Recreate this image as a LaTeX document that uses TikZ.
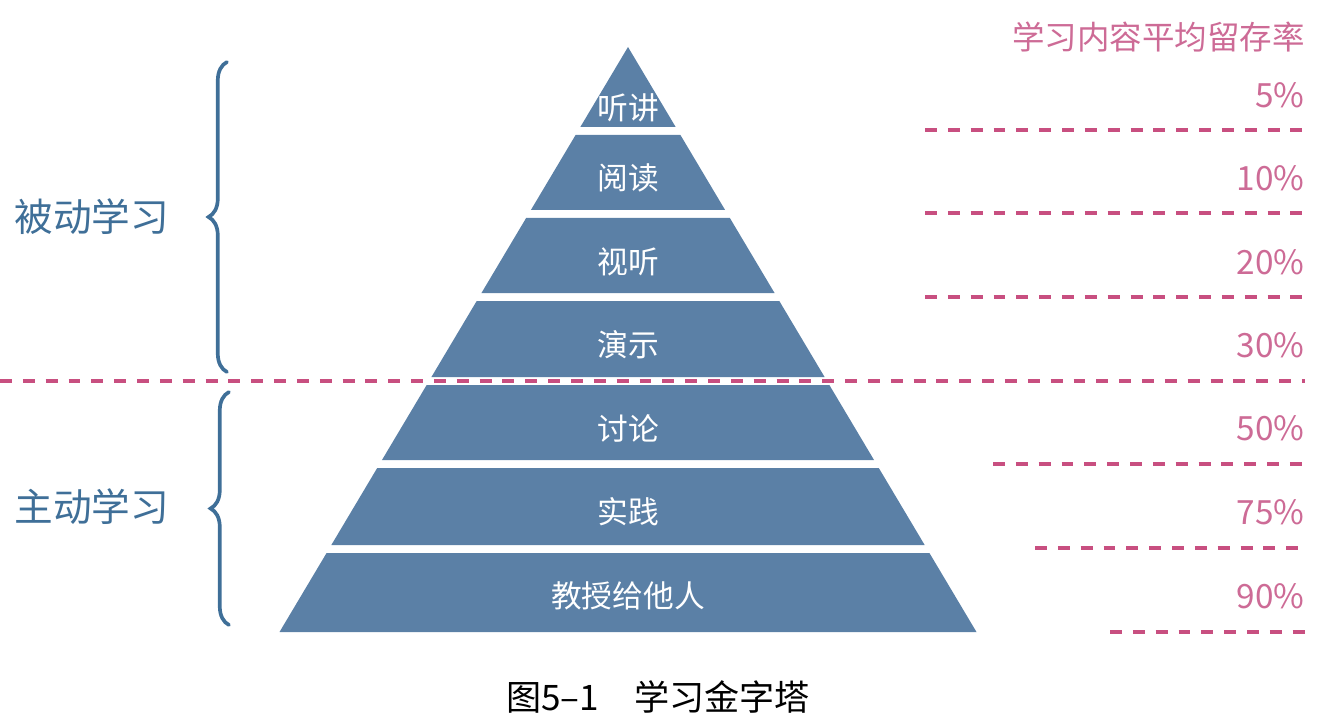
\documentclass[tikz,border=0pt]{standalone}
\usepackage{fontspec}
\setmainfont{Noto Sans CJK SC}
\usepackage{xcolor}
\usepackage{tikz}
\usetikzlibrary{
  arrows.meta,
  positioning,
  calc,
  decorations.pathreplacing
}
\definecolor{PyrBlue}{HTML}{5B80A6}
\definecolor{BraceBlue}{HTML}{3F6F98}
\definecolor{RateDash}{HTML}{C84F80}
\definecolor{RateText}{HTML}{CD6B96}

\tikzset{
  layerlabel/.style={text=white,font=\fontsize{17.5}{20}\selectfont,inner sep=0pt},
  pctlabel/.style={text=RateText,font=\fontsize{19}{22}\selectfont,inner sep=0pt,anchor=east},
  ratedash/.style={draw=RateDash,line width=2.3pt,dash pattern=on 6.8pt off 6.2pt},
  sidebrace/.style={draw=BraceBlue,line width=2.1pt,line cap=round,
    decorate,decoration={brace,amplitude=10.5pt}},
  sidelabel/.style={text=BraceBlue,font=\fontsize{22}{26}\selectfont,inner sep=0pt}
}

\begin{document}
\begin{tikzpicture}[x=0.02cm,y=-0.02cm]
    \useasboundingbox (0,0) rectangle (1318,726);

    % pyramid layers with their retention rates
    \foreach \ya/\yb/\lbl/\ly/\pct/\py [count=\i] in {
        47/127/听讲/108/5\%/95,
        135/210/阅读/178/10\%/178,
        218/293/视听/262/20\%/262,
        301/377/演示/345/30\%/345,
        385/460/讨论/428/50\%/428,
        468/545/实践/512/75\%/512,
        553/632/教授给他人/596/90\%/596}
    {
      \pgfmathsetmacro\wa{0.5957*(\ya-47)}
      \pgfmathsetmacro\wb{0.5957*(\yb-47)}
      \fill[PyrBlue] (628-\wa,\ya) -- (628+\wa,\ya) -- (628+\wb,\yb) -- (628-\wb,\yb) -- cycle;
      \node[layerlabel] (layer\i) at (628,\ly) {\lbl};
      \node[pctlabel] (pct\i) at (1305,\py) {\pct};
    }

    \node[text=RateText,font=\fontsize{18.5}{22}\selectfont,inner sep=0pt,anchor=east]
      (ratehead) at (1305,37) {学习内容平均留存率};

    % separators
    \foreach \y/\xs in {130/925, 213/925, 297/925, 464/993, 548/1035, 632/1110}
      \draw[ratedash] (\xs,\y) -- (1305,\y);
    \draw[ratedash] (0,381) -- (1305,381);

    % passive / active
    \draw[sidebrace] (227,372) -- (227,62);
    \draw[sidebrace] (229,625) -- (229,392);
    \node[sidelabel] (passive) at (92,217) {被动学习};
    \node[sidelabel] (active) at (92,507) {主动学习};

    \node[font=\fontsize{20}{24}\selectfont,inner sep=0pt] (caption) at (658,697) {图5–1　学习金字塔};
\end{tikzpicture}
\end{document}
